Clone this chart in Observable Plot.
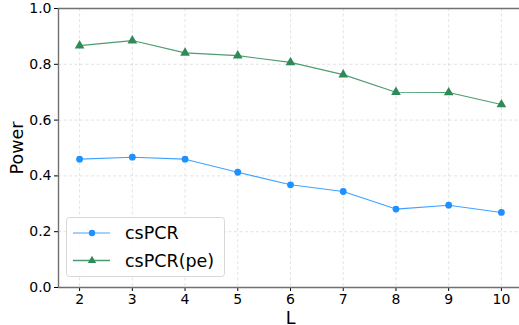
<!DOCTYPE html>
<html><head><meta charset="utf-8">
<script src="https://cdn.jsdelivr.net/npm/d3@7"></script>
<script src="https://cdn.jsdelivr.net/npm/@observablehq/plot@0.6"></script>
<style>body{margin:0;background:#fff}#c{position:relative;width:519px;height:325px}</style>
</head><body><div id="c"></div>
<script>
const Ls = [2,3,4,5,6,7,8,9,10];
const csPCR = [0.460,0.467,0.460,0.413,0.368,0.344,0.281,0.295,0.269];
const csPCRpe = [0.867,0.885,0.841,0.831,0.807,0.763,0.700,0.699,0.656];
const seriesNames = ["csPCR","csPCR(pe)"];
const colors = ["#1e90ff","#2e8b57"];
const yTicks = [0,0.2,0.4,0.6,0.8,1.0];

const data = [];
Ls.forEach((l,i)=>{data.push({L:l,v:csPCR[i],s:seriesNames[0]});data.push({L:l,v:csPCRpe[i],s:seriesNames[1]});});
const blue = data.filter(d=>d.s===seriesNames[0]);
const green = data.filter(d=>d.s===seriesNames[1]);
const font = "DejaVu Sans";
const plot = Plot.plot({
  width:519, height:325,
  marginLeft:58, marginTop:8, marginBottom:38, marginRight:-3,
  style:{fontFamily:font, fontSize:"14px", color:"#000", background:"#fff"},
  x:{domain:[1.6,10.4], ticks:Ls},
  y:{domain:[0,1], ticks:yTicks},
  marks:[
    Plot.gridX(Ls,{stroke:"#b0b0b0", strokeOpacity:0.35, strokeDasharray:"3,2.5"}),
    Plot.gridY(yTicks,{stroke:"#b0b0b0", strokeOpacity:0.35, strokeDasharray:"3,2.5"}),
    Plot.axisX(Ls,{tickSize:4, tickPadding:3, tickFormat:d=>String(d), label:"L", labelAnchor:"center", labelArrow:"none", labelOffset:36}),
    Plot.axisY(yTicks,{tickSize:4, tickPadding:3, tickFormat:d=>d.toFixed(1), label:"Power", labelAnchor:"center", labelArrow:"none", labelOffset:48}),
    Plot.line(blue,{x:"L",y:"v",stroke:colors[0],strokeWidth:1.1,strokeOpacity:0.85}),
    Plot.dot(blue,{x:"L",y:"v",fill:colors[0],r:3.4,symbol:"circle"}),
    Plot.line(green,{x:"L",y:"v",stroke:colors[1],strokeWidth:1.1,strokeOpacity:0.85}),
    Plot.dot(green,{x:"L",y:"v",fill:colors[1],r:3.6,symbol:"triangle"}),
    Plot.ruleX([1.6],{stroke:"#707070",strokeWidth:1.4}),
    Plot.ruleY([0,1],{stroke:"#707070",strokeWidth:1.4})
  ]
});
document.getElementById("c").appendChild(plot);
const svg = d3.select(plot);
svg.selectAll("text").style("font-size","14px");
svg.selectAll("g[aria-label='x-axis label'] text, g[aria-label='y-axis label'] text").style("font-size","17.5px");
// legend
const lg = svg.append("g").style("font-family",font).style("font-size","17.5px").attr("text-anchor","start");
lg.append("rect").attr("x",66.5).attr("y",217.5).attr("width",158).attr("height",59).attr("rx",3)
  .attr("fill","#fff").attr("fill-opacity",0.85).attr("stroke","#d8d8d8");
seriesNames.forEach((n,i)=>{
  const y = 233 + i*27.5;
  lg.append("line").attr("x1",73).attr("x2",110).attr("y1",y).attr("y2",y).attr("stroke",colors[i]).attr("stroke-width",1.3).attr("stroke-opacity",i===0?0.55:0.85);
  if(i===0) lg.append("circle").attr("cx",92).attr("cy",y).attr("r",3.2).attr("fill",colors[i]);
  else lg.append("path").attr("d",d3.symbol(d3.symbolTriangle,30)()).attr("transform",`translate(92,${y})`).attr("fill",colors[i]);
  lg.append("text").attr("x",125).attr("y",y).attr("dy","0.35em").attr("text-anchor","start").style("font-size","17.5px").text(n);
});
</script></body></html>
